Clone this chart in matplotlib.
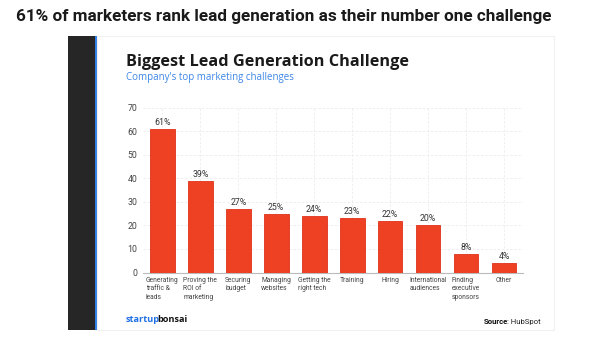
import matplotlib
matplotlib.use("Agg")
import matplotlib.pyplot as plt
from matplotlib.patches import Rectangle

plt.rcParams['font.family'] = ['Roboto', 'DejaVu Sans']

categories = ["Generating\ntraffic &\nleads", "Proving the\nROI of\nmarketing", "Securing\nbudget",
              "Managing\nwebsites", "Getting the\nright tech", "Training", "Hiring",
              "International\naudiences", "Finding\nexecutive\nsponsors", "Other"]
values = [61, 39, 27, 25, 24, 23, 22, 20, 8, 4]
yticks = [0, 10, 20, 30, 40, 50, 60, 70]

W, H = 602, 350
fig = plt.figure(figsize=(W / 100, H / 100), dpi=100)
fig.patch.set_facecolor("white")
renderer = fig.canvas.get_renderer()

def fx(px):
    return px / W

def fy(py):
    return 1 - py / H

def fit(t, width_px):
    # scale the font so the text spans about width_px pixels
    w = t.get_window_extent(renderer).width
    t.set_fontsize(t.get_fontsize() * width_px / w)
    return t

# dark side strip, blue line and the card
fig.add_artist(Rectangle((fx(68), fy(330)), fx(95) - fx(68), fy(36) - fy(330),
                         transform=fig.transFigure, facecolor="#262626", edgecolor="none", zorder=0))
fig.add_artist(Rectangle((fx(95), fy(330)), fx(97) - fx(95), fy(36) - fy(330),
                         transform=fig.transFigure, facecolor="#2f7fe6", edgecolor="none", zorder=0))
fig.add_artist(Rectangle((fx(97), fy(330)), fx(554) - fx(97), fy(36) - fy(330),
                         transform=fig.transFigure, facecolor="white", edgecolor="#f0f0f0",
                         linewidth=0.8, zorder=0))

fit(fig.text(fx(16), fy(17), "61% of marketers rank lead generation as their number one challenge",
             fontsize=12.3, fontweight="bold", color="#1a1a1a", va="center", ha="left"), 537)
fit(fig.text(fx(126), fy(62), "Biggest Lead Generation Challenge", family="Open Sans",
             fontsize=11.5, fontweight="bold", color="#1a1a1a", va="center", ha="left"), 282)
fit(fig.text(fx(126), fy(77.5), "Company's top marketing challenges", family="Open Sans",
             fontsize=7, color="#3d86e8", va="center", ha="left"), 168)

ax = fig.add_axes([fx(143), fy(272.5), fx(523) - fx(143), fy(107.5) - fy(272.5)])
ax.set_facecolor("none")
x = list(range(len(values)))
ax.bar(x, values, width=0.65, color="#ee4123", edgecolor="#e0301a", linewidth=0.6, zorder=3)
for xi, v in zip(x, values):
    ax.text(xi, v + 0.8, f"{v}%", ha="center", va="bottom", fontsize=6.3, color="#333333")

ax.set_xlim(-0.51, 9.5)
ax.set_ylim(0, 70)
ax.set_yticks(yticks)
ax.set_xticks(x)
ax.set_xticklabels(categories, fontsize=4.9, color="#444444", linespacing=1.3,
                   ha="center", multialignment="left")
ax.tick_params(axis="y", labelsize=6.3, colors="#444444", length=0, pad=4)
ax.tick_params(axis="x", length=0, pad=3)
ax.grid(True, color="#ececec", linewidth=0.6, linestyle=(0, (3, 2)), zorder=0)
for s in ["top", "right", "left"]:
    ax.spines[s].set_visible(False)
ax.spines["bottom"].set_color("#bbbbbb")
ax.spines["bottom"].set_linewidth(0.8)

# logo: blue "startup" + black "bonsai", set close together
s1 = fig.text(fx(126), fy(319), "startup", family="Open Sans", fontsize=8, fontweight="bold",
              color="#1f6fe5", va="center", ha="left")
fit(s1, 34)
w1 = s1.get_window_extent(renderer).width
fig.text(fx(126 + w1 - 3), fy(319), "bonsai", family="Open Sans", fontsize=s1.get_fontsize(),
         fontweight="bold", color="#111111", va="center", ha="left")
src = fig.text(fx(484), fy(322), "Source", fontsize=5.6, fontweight="bold", color="#111111",
               va="center", ha="left")
w2 = src.get_window_extent(renderer).width
fig.text(fx(484 + w2 - 1.5), fy(322), ": HubSpot", fontsize=5.6, color="#222222",
         va="center", ha="left")

fig.savefig("out.png", dpi=100)
